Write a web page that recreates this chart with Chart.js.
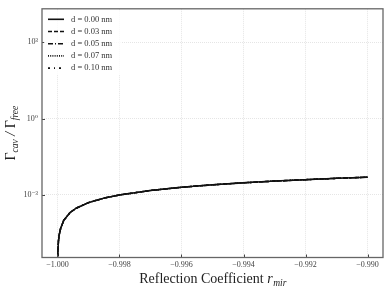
<!DOCTYPE html>
<html>
<head>
<meta charset="utf-8">
<script src="https://cdn.jsdelivr.net/npm/chart.js@4/dist/chart.umd.min.js"></script>
<style>
  html, body { margin: 0; padding: 0; background: #fff; }
  #chart { display: block; }
</style>
</head>
<body>
<canvas id="chart" width="392" height="290"></canvas>
<script>
// reflection coefficient (x) and decay-rate ratio (y)
const rMir = [-1.00000, -0.99999, -0.99997, -0.99995, -0.99990, -0.99980, -0.99960,
              -0.99940, -0.99900, -0.99850, -0.99800, -0.99700, -0.99600, -0.99500,
              -0.99400, -0.99300, -0.99200, -0.99100, -0.99000];
const gammaRatio = [1e-8, 5e-6, 1.5e-5, 2.5e-5, 4.8e-5, 1.0e-4, 2.0e-4,
                    3.0e-4, 5.0e-4, 7.5e-4, 1.0e-3, 1.5e-3, 2.0e-3, 2.5e-3,
                    3.0e-3, 3.5e-3, 4.0e-3, 4.5e-3, 5.0e-3];
// all five spacer thicknesses fall on the same curve at this scale
const dLabels = ['d = 0.00 nm', 'd = 0.03 nm', 'd = 0.05 nm', 'd = 0.07 nm', 'd = 0.10 nm'];
const dashes = [[], [4, 2], [5, 2, 1, 2], [1, 1.2], [2, 4, 1, 4]];
const xTicks = [-1.000, -0.998, -0.996, -0.994, -0.992, -0.990];
const yTicks = [1e-3, 1e0, 1e3];
const yTickLabels = ['10\u207B\u00B3', '10\u2070', '10\u00B3'];

const serif = '"Liberation Serif", "DejaVu Serif", serif';

function points() {
  return rMir.map((r, i) => ({x: r, y: gammaRatio[i]}));
}

const datasets = dLabels.map((lab, i) => ({
  label: lab,
  data: points(),
  borderColor: '#111',
  borderWidth: 1.5,
  borderDash: dashes[i],
  pointRadius: 0,
  fill: false,
  tension: 0
}));

//frame, inward ticks, legend and rich-text axis titles
const decorPlugin = {
  id: 'decor',
  afterDraw(chart) {
    const ctx = chart.ctx;
    const a = chart.chartArea;
    const sx = chart.scales.x, sy = chart.scales.y;
    ctx.save();

    ctx.strokeStyle = '#444';
    ctx.lineWidth = 1;
    xTicks.forEach(v => {
      const px = Math.round(sx.getPixelForValue(v)) + 0.5;
      ctx.beginPath(); ctx.moveTo(px, a.bottom); ctx.lineTo(px, a.bottom - 3); ctx.stroke();
    });
    yTicks.forEach(v => {
      const py = Math.round(sy.getPixelForValue(v)) + 0.5;
      ctx.beginPath(); ctx.moveTo(a.left, py); ctx.lineTo(a.left + 3, py); ctx.stroke();
    });

    ctx.strokeStyle = '#666';
    ctx.lineWidth = 1.3;
    ctx.strokeRect(a.left, a.top, a.right - a.left, a.bottom - a.top);

    // legend box
    ctx.fillStyle = 'rgba(255,255,255,0.8)';
    ctx.fillRect(a.left + 2, a.top + 2, 78, 64);
    ctx.font = '8.5px ' + serif;
    ctx.textBaseline = 'middle';
    chart.data.datasets.forEach((ds, i) => {
      const y = a.top + 10.5 + i * 12.2;
      ctx.strokeStyle = '#111';
      ctx.lineWidth = 1.6;
      ctx.setLineDash(ds.borderDash);
      ctx.beginPath(); ctx.moveTo(a.left + 6, y); ctx.lineTo(a.left + 22, y); ctx.stroke();
      ctx.setLineDash([]);
      ctx.fillStyle = '#333';
      ctx.textAlign = 'left';
      ctx.fillText(ds.label, a.left + 29, y);
    });

    // x title
    ctx.fillStyle = '#222';
    ctx.textBaseline = 'alphabetic';
    ctx.textAlign = 'left';
    const main = 'Reflection Coefficient ';
    const fMain = '14px ' + serif, fIt = 'italic 14px ' + serif, fSub = 'italic 9.5px ' + serif;
    ctx.font = fMain; const w1 = ctx.measureText(main).width;
    ctx.font = fIt; const w2 = ctx.measureText('r').width;
    ctx.font = fSub; const w3 = ctx.measureText('mir').width;
    let x0 = (a.left + a.right) / 2 - (w1 + w2 + w3) / 2;
    const by = 283;
    ctx.font = fMain; ctx.fillText(main, x0, by);
    ctx.font = fIt; ctx.fillText('r', x0 + w1, by);
    ctx.font = fSub; ctx.fillText('mir', x0 + w1 + w2 + 0.5, by + 3);

    // y title, rotated
    const parts = [
      {t: '\u0393', f: fMain, dy: 0},
      {t: 'cav', f: fSub, dy: 3},
      {t: ' / ', f: fIt, dy: 0},
      {t: '\u0393', f: fMain, dy: 0},
      {t: 'free', f: fSub, dy: 3}
    ];
    let total = 0;
    parts.forEach(p => { ctx.font = p.f; p.w = ctx.measureText(p.t).width; total += p.w; });
    ctx.translate(15, (a.top + a.bottom) / 2);
    ctx.rotate(-Math.PI / 2);
    let cx = -total / 2;
    parts.forEach(p => { ctx.font = p.f; ctx.fillText(p.t, cx, p.dy); cx += p.w; });

    ctx.restore();
  }
};

const chart = new Chart(document.getElementById('chart'), {
  type: 'line',
  data: { datasets: datasets },
  options: {
    responsive: false,
    animation: false,
    events: [],
    layout: { padding: { left: 0, top: 5, right: 9, bottom: 0 } },
    plugins: { legend: { display: false }, tooltip: { enabled: false } },
    scales: {
      x: {
        type: 'linear',
        min: -1.0005,
        max: -0.9895,
        afterBuildTicks: axis => { axis.ticks = xTicks.map(v => ({value: v})); },
        afterFit: axis => { axis.height = 32.5; },
        ticks: {
          callback: v => v.toFixed(3).replace('-', '\u2212'),
          font: { family: serif, size: 8 },
          color: '#444',
          padding: 3,
          maxRotation: 0
        },
        grid: { color: 'rgba(0,0,0,0.13)', lineWidth: 0.8, drawTicks: false },
        border: { display: false, dash: [1, 1] }
      },
      y: {
        type: 'logarithmic',
        min: Math.pow(10, -5.46),
        max: Math.pow(10, 4.32),
        afterBuildTicks: axis => { axis.ticks = yTicks.map(v => ({value: v})); },
        afterFit: axis => { axis.width = 42; },
        ticks: {
          callback: (v, i) => yTickLabels[yTicks.indexOf(v)],
          font: { family: serif, size: 8 },
          color: '#444',
          padding: 4
        },
        grid: { color: 'rgba(0,0,0,0.13)', lineWidth: 0.8, drawTicks: false },
        border: { display: false, dash: [1, 1] }
      }
    }
  },
  plugins: [decorPlugin]
});
</script>
</body>
</html>
